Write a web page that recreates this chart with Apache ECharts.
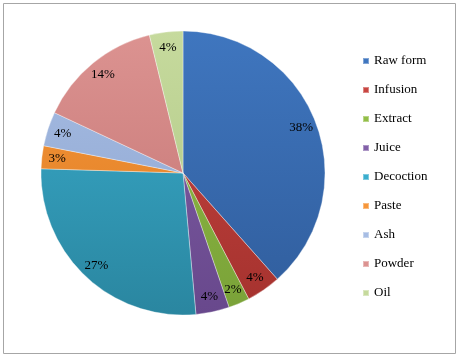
<!DOCTYPE html>
<html>
<head>
<meta charset="utf-8">
<script src="https://cdn.jsdelivr.net/npm/echarts@6/dist/echarts.min.js"></script>
<style>
  html, body { margin: 0; padding: 0; background: #fff; }
  #chart { width: 459px; height: 357px; }
</style>
</head>
<body>
<div id="chart"></div>
<script>
// 数据
let forms = ["Raw form", "Infusion", "Extract", "Juice", "Decoction", "Paste", "Ash", "Powder", "Oil"];
let shares = [38.4, 3.9, 2.4, 3.8, 26.9, 2.6, 3.9, 14.2, 3.8];

// 颜色 (上浅 下深)
let topColors = ["#3F76BF", "#C84541", "#92BE47", "#8260A8", "#3AAECE", "#F6963A", "#A7BDE4", "#DC9391", "#C6DA9D"];
let bottomColors = ["#305D9C", "#A5322E", "#7AA238", "#68488C", "#2A86A0", "#DD7C22", "#8CA4CE", "#C27271", "#ADC583"];

let cx = 183, cy = 173, R = 142;

function sliceColor(i) {
    return {
        type: "linear", global: true,
        x: 0, y: cy - R, x2: 0, y2: cy + R,
        colorStops: [
            { offset: 0, color: topColors[i] },
            { offset: 1, color: bottomColors[i] }
        ]
    };
}

let pieData = forms.map(function (name, i) {
    return { name: name, value: shares[i], itemStyle: { color: sliceColor(i) } };
});
let labelData = forms.map(function (name, i) {
    return { name: name, value: shares[i] };
});

let myChart = echarts.init(document.getElementById("chart"));
let option = {
    animation: false,
    color: topColors,
    legend: {
        orient: "vertical",
        left: 357,
        top: 49,
        itemWidth: 6,
        itemHeight: 6,
        itemGap: 15,
        icon: "rect",
        data: forms,
        textStyle: {
            fontFamily: "Liberation Serif",
            fontSize: 13,
            lineHeight: 14,
            color: "#000"
        }
    },
    graphic: [{
        type: "rect",
        shape: { x: 3.5, y: 3.5, width: 452, height: 350 },
        style: { fill: "none", stroke: "#A6A6A6", lineWidth: 1 },
        z: 100
    }],
    series: [{
        type: "pie",
        center: [cx, cy],
        radius: [0, R],
        startAngle: 90,
        clockwise: true,
        label: { show: false },
        labelLine: { show: false },
        itemStyle: { borderColor: "rgba(255,255,255,0.35)", borderWidth: 1 },
        emphasis: { disabled: true },
        data: pieData
    }, {
        // 标签层
        type: "pie",
        center: [cx, cy],
        radius: [R * 0.74, R],
        startAngle: 90,
        clockwise: true,
        silent: true,
        legendHoverLink: false,
        itemStyle: { color: "rgba(0,0,0,0)" },
        label: {
            show: true,
            position: "inside",
            fontFamily: "Liberation Serif",
            fontSize: 13,
            color: "#000",
            formatter: function (p) { return Math.round(p.value) + "%"; }
        },
        labelLine: { show: false },
        emphasis: { disabled: true },
        data: labelData
    }]
};
myChart.setOption(option);
</script>
</body>
</html>
